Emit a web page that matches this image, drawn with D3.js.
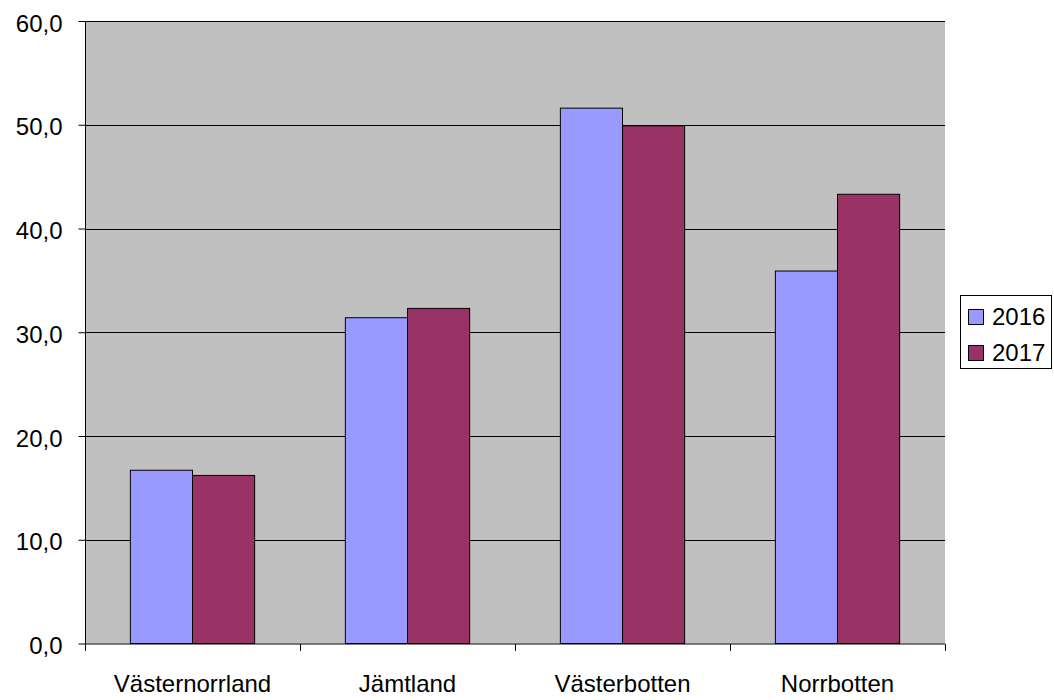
<!DOCTYPE html>
<html>
<head>
<meta charset="utf-8">
<script src="https://cdn.jsdelivr.net/npm/d3@7"></script>
<style>
  html, body { margin: 0; padding: 0; background: #fff; }
  svg { display: block; font-family: "Liberation Sans", Arial, sans-serif; }
</style>
</head>
<body>
<svg id="chart" width="1054" height="700"></svg>
<script>
const categories = ["Västernorrland", "Jämtland", "Västerbotten", "Norrbotten"];
const seriesNames = ["2016", "2017"];
const values2016 = [16.7, 31.4, 51.6, 35.9];
const values2017 = [16.2, 32.3, 49.9, 43.3];
const yTicks = [0, 10, 20, 30, 40, 50, 60];
const colors = ["#9999FF", "#993366"];

const svg = d3.select("#chart");
const plot = { left: 85, right: 945, top: 21, bottom: 643.5 };
const fontFamily = "'Liberation Sans', Arial, sans-serif";

const x = d3.scaleBand().domain(categories).range([plot.left, plot.right]).padding(0);
const inner = d3.scaleBand().domain(seriesNames).range([0, x.bandwidth()]).paddingInner(0).paddingOuter(0.73);
const y = d3.scaleLinear().domain([0, 60]).range([plot.bottom, plot.top]);

// plot background
svg.append("rect")
  .attr("x", plot.left).attr("y", plot.top)
  .attr("width", plot.right - plot.left).attr("height", plot.bottom - plot.top)
  .attr("fill", "#C0C0C0");

// horizontal gridlines
svg.append("g").selectAll("line").data(yTicks.filter(d => d > 0)).join("line")
  .attr("x1", plot.left).attr("x2", plot.right)
  .attr("y1", d => Math.round(y(d)) + 0.5).attr("y2", d => Math.round(y(d)) + 0.5)
  .attr("stroke", "#000").attr("stroke-width", 1);

// bars
const seriesValues = [values2016, values2017];
const groups = svg.append("g").selectAll("g").data(categories).join("g")
  .attr("transform", d => `translate(${x(d)},0)`);
groups.selectAll("rect")
  .data((c, i) => seriesNames.map((s, j) => ({ s, v: seriesValues[j][i], j })))
  .join("rect")
  .attr("x", d => inner(d.s))
  .attr("y", d => y(d.v))
  .attr("width", inner.bandwidth())
  .attr("height", d => plot.bottom - y(d.v))
  .attr("fill", d => colors[d.j])
  .attr("stroke", "#000").attr("stroke-width", 1);

// y axis
const yAxis = d3.axisLeft(y).tickValues(yTicks)
  .tickFormat(d => d3.format(".1f")(d).replace(".", ","))
  .tickSize(7).tickPadding(16);
const gy = svg.append("g").attr("transform", `translate(${plot.left + 0.5},0)`).call(yAxis);
gy.attr("font-size", null).attr("font-family", null);
gy.select(".domain").attr("d", `M0,${plot.top}V${plot.bottom}`).attr("stroke", "#000");
gy.selectAll("text").style("font-size", "24px").attr("fill", "#000")
  .style("font-family", fontFamily).attr("dy", "0.42em");

// x axis
const xAxis = d3.axisBottom(x).tickSize(0).tickFormat(d => d);
const gx = svg.append("g").attr("transform", `translate(0,${plot.bottom + 0.5})`).call(xAxis);
gx.attr("font-size", null).attr("font-family", null);
gx.select(".domain").attr("d", `M${plot.left},0H${plot.right}`).attr("stroke", "#000");
gx.selectAll(".tick text").style("font-size", "24px").attr("fill", "#000").attr("dy", 0).attr("y", 48)
  .style("font-family", fontFamily);
// category boundary ticks
const boundaries = categories.map(c => x(c)).concat([plot.right]);
gx.selectAll("line.sep").data(boundaries).join("line").attr("class", "sep")
  .attr("x1", d => Math.round(d) + 0.5).attr("x2", d => Math.round(d) + 0.5)
  .attr("y1", 0).attr("y2", 7).attr("stroke", "#000");

// legend
const legend = svg.append("g");
legend.append("rect").attr("x", 960.5).attr("y", 295.5).attr("width", 91).attr("height", 73)
  .attr("fill", "#fff").attr("stroke", "#000");
const items = legend.selectAll("g.item").data(seriesNames).join("g").attr("class", "item")
  .attr("transform", (d, i) => `translate(968,${309 + i * 36})`);
items.append("rect").attr("x", 0.5).attr("y", 0.5).attr("width", 15).attr("height", 15)
  .attr("fill", (d, i) => colors[i]).attr("stroke", "#000");
items.append("text").attr("x", 24).attr("y", 16).style("font-size", "24px").attr("fill", "#000")
  .style("font-family", fontFamily)
  .text(d => d);
</script>
</body>
</html>
